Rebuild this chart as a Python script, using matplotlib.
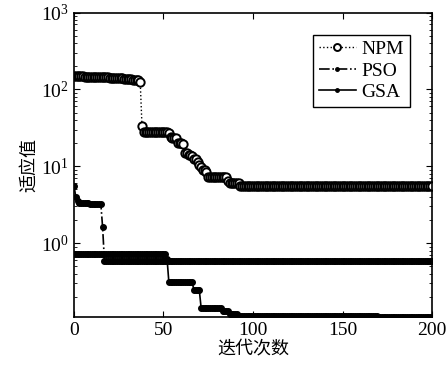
import numpy as np
import matplotlib
matplotlib.use('Agg')
import matplotlib.pyplot as plt

plt.rcParams['font.family'] = ['Liberation Serif', 'Noto Sans CJK SC']
plt.rcParams['mathtext.fontset'] = 'stix'

# step data: (level, number of iterations)
npm_levels = [148, 146, 143, 140, 136, 132, 126, 33, 27.5, 27, 24, 23, 20, 19.5, 15, 14, 13.5, 12.5, 11.5, 10.5, 9.7, 9.0, 8.3, 7.2, 6.5, 6.0, 5.6, 5.5]
npm_runs   = [6,   7,   7,   8,   5,   4,   1,  1,  14,   1,  1,  3,  3,  1,    2,  2,  1,    2,    1,    1,    1,   2,   1,   11,  1,   6,   106, 2]
pso_levels = [5.6, 4.0, 3.5, 3.35, 3.25, 1.6, 0.59]
pso_runs   = [1,   1,   1,   6,    7,    1,   184]
gsa_levels = [0.72, 0.62, 0.31, 0.245, 0.145, 0.13, 0.12, 0.114, 0.110]
gsa_runs   = [52,   1,    14,   4,     12,    4,    5,    78,    31]

npm = np.repeat(npm_levels, npm_runs)
pso = np.repeat(pso_levels, pso_runs)
gsa = np.repeat(gsa_levels, gsa_runs)
it = np.arange(len(npm))

fig = plt.figure(figsize=(4.47, 3.69), dpi=100)
ax = fig.add_axes([0.1655, 0.140, 0.801, 0.826])

ax.semilogy(it, npm, ':', color='black', lw=1.0, marker='o', ms=6, mfc='white', mec='black', mew=1.4, label='NPM')
ax.semilogy(np.arange(len(pso)), pso, '-.', color='black', lw=1.2, marker='.', ms=8, label='PSO')
ax.semilogy(np.arange(len(gsa)), gsa, '-', color='black', lw=1.2, marker='.', ms=8, label='GSA')

ax.set_xlim(0, 200)
ax.set_ylim(0.108, 1000)
ax.set_xticks([0, 50, 100, 150, 200])
ax.tick_params(which='both', direction='in', top=True, right=True, labelsize=14)
ax.tick_params(which='major', length=4)
ax.tick_params(which='minor', length=2)
for s in ax.spines.values():
    s.set_linewidth(1.2)

ax.set_xlabel('迭代次数', fontsize=13, family=['Noto Sans CJK SC'], labelpad=0)
ax.set_ylabel('适应值', fontsize=13, family=['Noto Sans CJK SC'], labelpad=2)

leg = ax.legend(loc='upper right', fontsize=14, fancybox=False, edgecolor='black', framealpha=1,
                handlelength=1.9, handletextpad=0.3, borderpad=0.3, labelspacing=0.2,
                borderaxespad=0, bbox_to_anchor=(0.9385, 0.927))
leg.get_frame().set_linewidth(1.0)
for h in leg.legend_handles:
    h.set_markersize(5)

fig.savefig('out.png', dpi=100)
